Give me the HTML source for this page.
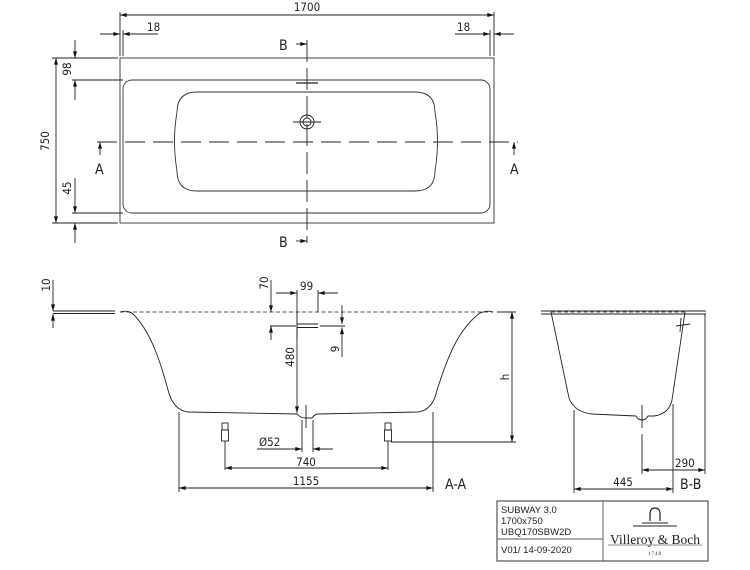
<!DOCTYPE html>
<html><head><meta charset="utf-8"><style>
html,body{margin:0;padding:0;background:#fff;width:750px;height:570px;overflow:hidden}
svg{display:block}
text{font-family:"DejaVu Sans Condensed","Liberation Sans Narrow","Liberation Sans",sans-serif;font-size:11.5px;fill:#222}
.t{font-family:"Liberation Sans",sans-serif;font-size:9.5px}
.big{font-size:14px}
</style></head><body>
<svg width="750" height="570" viewBox="0 0 750 570" xmlns="http://www.w3.org/2000/svg">
<defs>
<marker id="a" viewBox="0 0 10 6" refX="10" refY="3" markerWidth="8" markerHeight="4" orient="auto-start-reverse" markerUnits="userSpaceOnUse"><path d="M0,0L10,3L0,6z" fill="#111"/></marker>
</defs>
<g stroke="#222" stroke-width="0.9" fill="none">
<rect x="120" y="58" width="374" height="165" stroke="#333"/>
<rect x="123" y="80" width="367" height="133" rx="9" stroke="#333"/>
<path d="M197,92 H415 Q435,92 435,112 Q440,141 435,171 Q435,191 415,191 H197 Q177,191 177,171 Q172,141 177,112 Q177,92 197,92 Z" stroke="#333"/>
<circle cx="307" cy="122" r="7"/><circle cx="307" cy="122" r="4"/>
<line x1="293" y1="122" x2="321" y2="122"/>
<line x1="296" y1="83" x2="318" y2="83" stroke-width="1.3"/>
<line x1="97" y1="142" x2="518" y2="142" stroke-dasharray="20,8"/>
<line x1="307" y1="40" x2="307" y2="243" stroke-dasharray="22,6"/>
<line x1="296" y1="44" x2="307" y2="44" marker-end="url(#a)"/>
<line x1="296" y1="241" x2="307" y2="241" marker-end="url(#a)"/>
<line x1="100" y1="155" x2="100" y2="142" marker-end="url(#a)"/>
<line x1="514" y1="155" x2="514" y2="142" marker-end="url(#a)"/>
<line x1="120" y1="12" x2="120" y2="56"/><line x1="494" y1="12" x2="494" y2="56"/>
<line x1="123" y1="30" x2="123" y2="56"/><line x1="490" y1="30" x2="490" y2="56"/>
<line x1="120" y1="15" x2="494" y2="15" marker-start="url(#a)" marker-end="url(#a)"/>
<line x1="100" y1="34" x2="120" y2="34" marker-end="url(#a)"/>
<line x1="158" y1="34" x2="123" y2="34" marker-end="url(#a)"/>
<line x1="455" y1="34" x2="490" y2="34" marker-end="url(#a)"/>
<line x1="514" y1="34" x2="494" y2="34" marker-end="url(#a)"/>
<line x1="52" y1="58" x2="118" y2="58"/><line x1="52" y1="223" x2="118" y2="223"/>
<line x1="72" y1="80" x2="123" y2="80"/><line x1="72" y1="213" x2="123" y2="213"/>
<line x1="56" y1="58" x2="56" y2="223" marker-start="url(#a)" marker-end="url(#a)"/>
<line x1="75" y1="40" x2="75" y2="58" marker-end="url(#a)"/>
<line x1="75" y1="100" x2="75" y2="80" marker-end="url(#a)"/>
<line x1="75" y1="178" x2="75" y2="213" marker-end="url(#a)"/>
<line x1="75" y1="243" x2="75" y2="223" marker-end="url(#a)"/>

<line x1="53" y1="311" x2="115" y2="311"/><line x1="53" y1="313.5" x2="115" y2="313.5"/>
<line x1="120" y1="312" x2="493" y2="312" stroke-dasharray="4,2.5" stroke="#555"/>
<path d="M120,312 Q126,310 132,313 C150,330 160,360 168,390 Q173,410 188,412 L297,414 Q300,418 306,418 L312,418 Q315,414 318,414 L418,412 Q433,410 437,390 C447,360 457,330 480,313 Q488,310 493,312"/>
<line x1="53" y1="280" x2="53" y2="311" marker-end="url(#a)"/>
<line x1="53" y1="328" x2="53" y2="314" marker-end="url(#a)"/>
<line x1="270" y1="326" x2="296" y2="326"/>
<line x1="320" y1="326" x2="345" y2="326"/>
<line x1="297" y1="324" x2="318" y2="324" stroke-width="1.1"/><line x1="297" y1="327.5" x2="318" y2="327.5"/>
<line x1="271" y1="280" x2="271" y2="312" marker-end="url(#a)"/>
<line x1="271" y1="340" x2="271" y2="326" marker-end="url(#a)"/>
<line x1="297" y1="290" x2="297" y2="340"/>
<line x1="318" y1="290" x2="318" y2="312"/>
<line x1="276" y1="293" x2="297" y2="293" marker-end="url(#a)"/>
<line x1="338" y1="293" x2="318" y2="293" marker-end="url(#a)"/>
<line x1="342" y1="305" x2="342" y2="324" marker-end="url(#a)"/>
<line x1="342" y1="357" x2="342" y2="327.5" marker-end="url(#a)"/>
<line x1="297" y1="312" x2="297" y2="413" marker-end="url(#a)"/>
<line x1="306" y1="405" x2="306" y2="428"/>
<line x1="302" y1="420" x2="302" y2="452"/><line x1="313" y1="420" x2="313" y2="452"/>
<line x1="257" y1="449" x2="302" y2="449" marker-end="url(#a)"/>
<line x1="333" y1="449" x2="313" y2="449" marker-end="url(#a)"/>
<rect x="222" y="423" width="6" height="7"/><rect x="221.5" y="430" width="7" height="11"/>
<rect x="385" y="423" width="6" height="7"/><rect x="384.5" y="430" width="7" height="11"/>
<line x1="225" y1="441" x2="225" y2="470"/><line x1="388" y1="441" x2="388" y2="470"/>
<line x1="225" y1="468" x2="388" y2="468" marker-start="url(#a)" marker-end="url(#a)"/>
<line x1="179" y1="412" x2="179" y2="492"/><line x1="433" y1="412" x2="433" y2="492"/>
<line x1="179" y1="488" x2="433" y2="488" marker-start="url(#a)" marker-end="url(#a)"/>
<line x1="497" y1="312" x2="516" y2="312"/><line x1="391" y1="442" x2="516" y2="442"/>
<line x1="512" y1="312" x2="512" y2="442" marker-start="url(#a)" marker-end="url(#a)"/>

<line x1="541" y1="311" x2="706" y2="311"/><line x1="541" y1="314" x2="706" y2="314"/>
<line x1="551" y1="312" x2="685" y2="312" stroke-dasharray="4,2.5" stroke="#555"/>
<path d="M551,312 L569,398 Q574,412 592,414 L636,416 Q638,420 642,420 Q646,420 648,416 L654,416 Q669,414 672,400 L685,312"/>
<line x1="676" y1="326" x2="690" y2="324"/><line x1="681" y1="318" x2="680" y2="332"/>
<line x1="642" y1="405" x2="642" y2="428"/>
<line x1="642" y1="434" x2="642" y2="474"/>
<line x1="705" y1="314" x2="705" y2="474"/>
<line x1="574" y1="410" x2="574" y2="493"/><line x1="673" y1="404" x2="673" y2="493"/>
<line x1="642" y1="470" x2="705" y2="470" marker-start="url(#a)" marker-end="url(#a)"/>
<line x1="574" y1="489" x2="673" y2="489" marker-start="url(#a)" marker-end="url(#a)"/>

<rect x="497" y="501" width="211" height="60" stroke="#555" stroke-width="1.2"/>
<line x1="603" y1="501" x2="603" y2="561" stroke="#555"/>
<line x1="497" y1="539" x2="603" y2="539" stroke="#555"/>
<path d="M650,521 V514 Q650,508 655,508 Q660,508 660,514 V521" stroke-width="1.2"/>
<line x1="642" y1="523" x2="668" y2="523"/><line x1="633" y1="526" x2="677" y2="526"/>
<line x1="608" y1="545" x2="702" y2="545" stroke-width="0.6"/>
</g>
<g>
<text x="307" y="11" text-anchor="middle">1700</text>
<text x="147" y="31">18</text>
<text x="457" y="31">18</text>
<text class="big" x="279" y="50">B</text><text class="big" x="279" y="247">B</text>
<text class="big" x="95" y="174">A</text><text class="big" x="510" y="174">A</text>
<text transform="translate(49,141) rotate(-90)" text-anchor="middle">750</text>
<text transform="translate(71,69) rotate(-90)" text-anchor="middle">98</text>
<text transform="translate(71,188) rotate(-90)" text-anchor="middle">45</text>
<text transform="translate(50,285) rotate(-90)" text-anchor="middle">10</text>
<text transform="translate(268,283) rotate(-90)" text-anchor="middle">70</text>
<text x="300" y="290">99</text>
<text transform="translate(339,349) rotate(-90)" text-anchor="middle">9</text>
<text transform="translate(294,357) rotate(-90)" text-anchor="middle">480</text>
<text transform="translate(509,377) rotate(-90)" text-anchor="middle">h</text>
<text x="259" y="446">Ø52</text>
<text x="306" y="466" text-anchor="middle">740</text>
<text x="306" y="485" text-anchor="middle">1155</text>
<text x="445" y="489" class="big">A-A</text>
<text x="675" y="467">290</text>
<text x="623" y="486" text-anchor="middle">445</text>
<text x="680" y="489" class="big">B-B</text>
<text class="t" x="501" y="513">SUBWAY 3.0</text>
<text class="t" x="501" y="524">1700x750</text>
<text class="t" x="501" y="535">UBQ170SBW2D</text>
<text class="t" x="501" y="553">V01/ 14-09-2020</text>
<text x="655" y="544" text-anchor="middle" style="font-family:'Liberation Serif',serif;font-size:13.5px">Villeroy &amp; Boch</text>
<text x="655" y="555" text-anchor="middle" style="font-family:'Liberation Serif',serif;font-size:5px;letter-spacing:1px">1748</text>
</g>
</svg>
</body></html>
